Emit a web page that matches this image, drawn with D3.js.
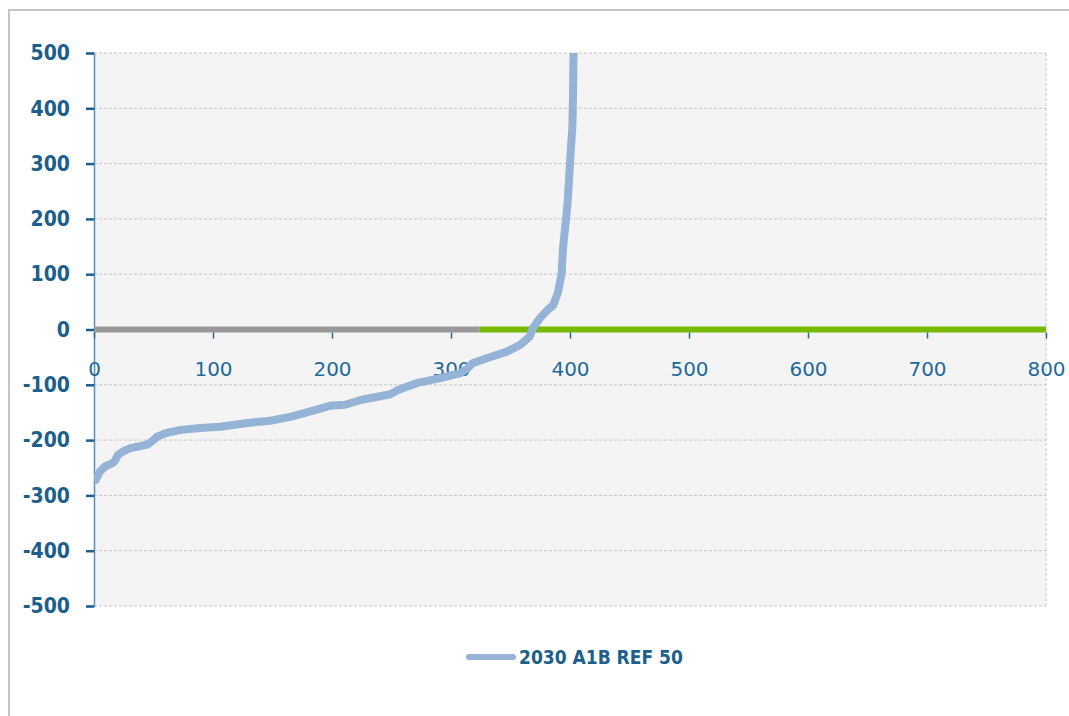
<!DOCTYPE html>
<html><head><meta charset="utf-8">
<script src="https://cdn.jsdelivr.net/npm/d3@7"></script>
<style>body{margin:0;background:#fff}svg{display:block}</style>
</head><body><svg id="c" width="1069" height="716"></svg>
<script>
const seriesName = "2030 A1B REF 50";
const curveX = [0,2,5,9,16,18,20,24,30,45,50,53,61,72,89,106,129,148,165,182,198,211,225,249,255,260,271,291,308,314,318,330,347,358,366,369,375,381,386,390,393,394,398,400,402,402.5,403,404];
const curveY = [-275,-270,-257,-248,-241,-236,-227,-221,-215,-208,-200,-194,-187,-182,-178,-176,-169,-165,-158,-148,-138,-136,-127,-117,-110,-106,-97,-88,-79,-70,-61,-52,-40,-28,-13,3,21,35,44,68,102,144,229,301,366,420,500,560];
const grayX = [0, 324];
const greenX = [324, 800];
const baseY = [0, 0];
const xTicks = [0,100,200,300,400,500,600,700,800];
const yTicks = [-500,-400,-300,-200,-100,0,100,200,300,400,500];

const svg = d3.select("#c");
const L = 94, R = 1046, T = 53, B = 606;
const x = d3.scaleLinear().domain([0,800]).range([L,R]);
const y = d3.scaleLinear().domain([-500,500]).range([B,T]);
const fmt = d => String(d);

// outer chart border
svg.append("rect").attr("x",9).attr("y",10).attr("width",1100).attr("height",760)
  .attr("fill","none").attr("stroke","#c4c4c4").attr("stroke-width",2);

// plot area
svg.append("rect").attr("x",L).attr("y",T).attr("width",R-L).attr("height",B-T).attr("fill","#f4f4f4");

// gridlines
svg.append("g").selectAll("line").data(yTicks).join("line")
  .attr("x1",L).attr("x2",R).attr("y1",d=>y(d)).attr("y2",d=>y(d))
  .attr("stroke","#c6c6c6").attr("stroke-width",1).attr("stroke-dasharray","3,2");
svg.append("line").attr("x1",R).attr("x2",R).attr("y1",T).attr("y2",B)
  .attr("stroke","#c6c6c6").attr("stroke-width",1).attr("stroke-dasharray","3,2");

// y axis
const yAxis = svg.append("g").attr("transform",`translate(${L},0)`)
  .call(d3.axisLeft(y).tickValues(yTicks).tickFormat(fmt).tickSize(8).tickPadding(16));
yAxis.select(".domain").attr("stroke","#5b8db8").attr("stroke-width",1.5);
yAxis.selectAll(".tick line").attr("stroke","#1d5f8c").attr("stroke-width",2.5);
yAxis.selectAll("text").attr("fill","#1d5f8c").attr("font-family","DejaVu Sans Condensed, DejaVu Sans")
  .attr("font-weight","bold").attr("font-size",21);

// zero reference lines
const line = d3.line().x(d=>x(d[0])).y(d=>y(d[1]));
svg.append("path").datum(grayX.map((v,i)=>[v,baseY[i]])).attr("d",line)
  .attr("stroke","#999999").attr("stroke-width",6).attr("fill","none");
svg.append("path").datum(greenX.map((v,i)=>[v,baseY[i]])).attr("d",line)
  .attr("stroke","#77b800").attr("stroke-width",6).attr("fill","none");

// x axis at y=0
const xAxis = svg.append("g").attr("transform",`translate(0,${y(0)})`)
  .call(d3.axisBottom(x).tickValues(xTicks).tickFormat(fmt).tickSize(6).tickPadding(26));
xAxis.select(".domain").remove();
xAxis.selectAll(".tick line").attr("stroke","#1d6a9a").attr("stroke-width",1.5).attr("transform","translate(0,3)");
xAxis.selectAll("text").attr("fill","#1f6a9a").attr("font-family","DejaVu Sans")
  .attr("font-size",20);

// curve
svg.append("clipPath").attr("id","clip").append("rect")
  .attr("x",L).attr("y",T).attr("width",R-L).attr("height",B-T);
svg.append("path").datum(curveX.map((v,i)=>[v,curveY[i]])).attr("d",line)
  .attr("clip-path","url(#clip)")
  .attr("stroke","#95b3d7").attr("stroke-width",8).attr("fill","none")
  .attr("stroke-linejoin","round");

// legend
svg.append("line").attr("x1",469).attr("x2",513).attr("y1",657).attr("y2",657)
  .attr("stroke","#95b3d7").attr("stroke-width",6).attr("stroke-linecap","round");
svg.append("text").attr("x",519).attr("y",664).text(seriesName)
  .attr("fill","#1d5f8c").attr("font-family","DejaVu Sans Condensed, DejaVu Sans")
  .attr("font-weight","bold").attr("font-size",19);
</script></body></html>
